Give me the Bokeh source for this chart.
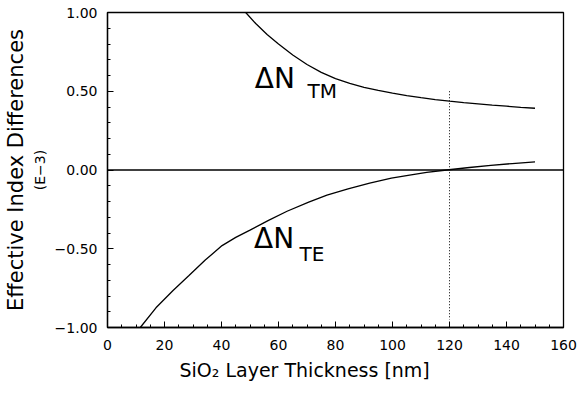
from bokeh.plotting import figure
from bokeh.models import Range1d, FixedTicker, Span, Label, Title
from bokeh.embed import file_html
from bokeh.resources import INLINE

# --- data ---
thickness_tm = [48.5, 52, 56, 60, 65, 70, 75, 80, 85, 90, 95, 100, 105, 110,
                115, 120, 125, 130, 135, 140, 145, 150]
dn_tm = [1.00, 0.93, 0.86, 0.80, 0.73, 0.67, 0.62, 0.58, 0.55, 0.525, 0.505,
         0.488, 0.472, 0.459, 0.447, 0.437, 0.428, 0.42, 0.412, 0.405, 0.398, 0.392]

thickness_te = [11.5, 17, 23, 28.5, 34.3, 40.2, 45, 50, 56.5, 63, 70.6, 77,
                84.4, 92, 99.6, 106, 112, 119, 127, 134.5, 142, 150]
dn_te = [-1.00, -0.875, -0.765, -0.672, -0.572, -0.48, -0.428, -0.382, -0.32,
         -0.262, -0.204, -0.16, -0.12, -0.083, -0.052, -0.032, -0.015, 0.0,
         0.016, 0.029, 0.041, 0.052]

marker_x = [120, 120]
marker_y = [0.50, -0.95]

x_ticks = [0, 20, 40, 60, 80, 100, 120, 140, 160]
x_minor = list(range(0, 161, 5))
y_ticks = [-1.0, -0.5, 0.0, 0.5, 1.0]
y_tick_labels = ["\u22121.00", "\u22120.50", "0.00", "0.50", "1.00"]
y_minor = [round(-1.0 + 0.1 * i, 1) for i in range(21)]

FONT = "DejaVu Sans"

p = figure(width=580, height=403, output_backend="svg", toolbar_location=None,
           x_range=Range1d(0, 160), y_range=Range1d(-1, 1),
           min_border_left=105, min_border_right=17, min_border_top=12,
           min_border_bottom=76)
p.background_fill_color = "white"
p.border_fill_color = "white"
p.grid.visible = False
p.outline_line_color = "black"
p.outline_line_width = 1.3

# axes
for ax in (p.xaxis[0], p.yaxis[0]):
    ax.axis_line_color = "black"
    ax.axis_line_width = 1.3
    ax.major_tick_in = 6
    ax.major_tick_out = 0
    ax.minor_tick_in = 3
    ax.minor_tick_out = 0
    ax.major_tick_line_color = "black"
    ax.minor_tick_line_color = "black"
    ax.major_label_text_font = FONT
    ax.major_label_text_font_size = "14px"
    ax.major_label_text_color = "black"
    ax.axis_label_text_font = FONT
    ax.axis_label_text_font_style = "normal"
    ax.axis_label_text_color = "black"

p.xaxis.ticker = FixedTicker(ticks=x_ticks, minor_ticks=x_minor)
p.xaxis.major_label_standoff = 12

# x-axis title (sits left of the frame centre in the reference)
p.add_layout(Title(text="SiO\u2082 Layer Thickness [nm]", align="left",
                   offset=72, standoff=9,
                   text_font=FONT, text_font_size="19px",
                   text_font_style="normal", text_color="black"), "below")

p.yaxis.ticker = FixedTicker(ticks=y_ticks, minor_ticks=y_minor)
p.yaxis.major_label_overrides = {t: s for t, s in zip(y_ticks, y_tick_labels)}
p.yaxis.major_label_standoff = 10
p.yaxis.axis_label = "(E\u22123)"
p.yaxis.axis_label_text_font_size = "14px"
p.yaxis.axis_label_standoff = 4

p.add_layout(Title(text="Effective Index Differences", align="center",
                   text_font=FONT, text_font_size="21px", standoff=2,
                   text_font_style="normal", text_color="black"), "left")

# zero line
p.add_layout(Span(location=0, dimension="width", line_color="black",
                  line_width=1.3))

# curves
p.line(thickness_tm, dn_tm, line_color="black", line_width=1.3)
p.line(thickness_te, dn_te, line_color="black", line_width=1.3)

# dotted marker
p.line(marker_x, marker_y, line_color="black", line_width=1, line_dash="1 2")

# labels
def add_label(x, y, text, size):
    p.add_layout(Label(x=x, y=y, text=text, text_font=FONT,
                       text_font_size=size, text_color="black",
                       text_baseline="alphabetic", text_align="left"))

add_label(51.7, 0.58, "\u0394N", "28px")
add_label(70.2, 0.503, "TM", "20px")
add_label(51.4, -0.435, "\u0394N", "28px")
add_label(67.4, -0.531, "TE", "20px")

open("out.html", "w").write(file_html(p, INLINE))
